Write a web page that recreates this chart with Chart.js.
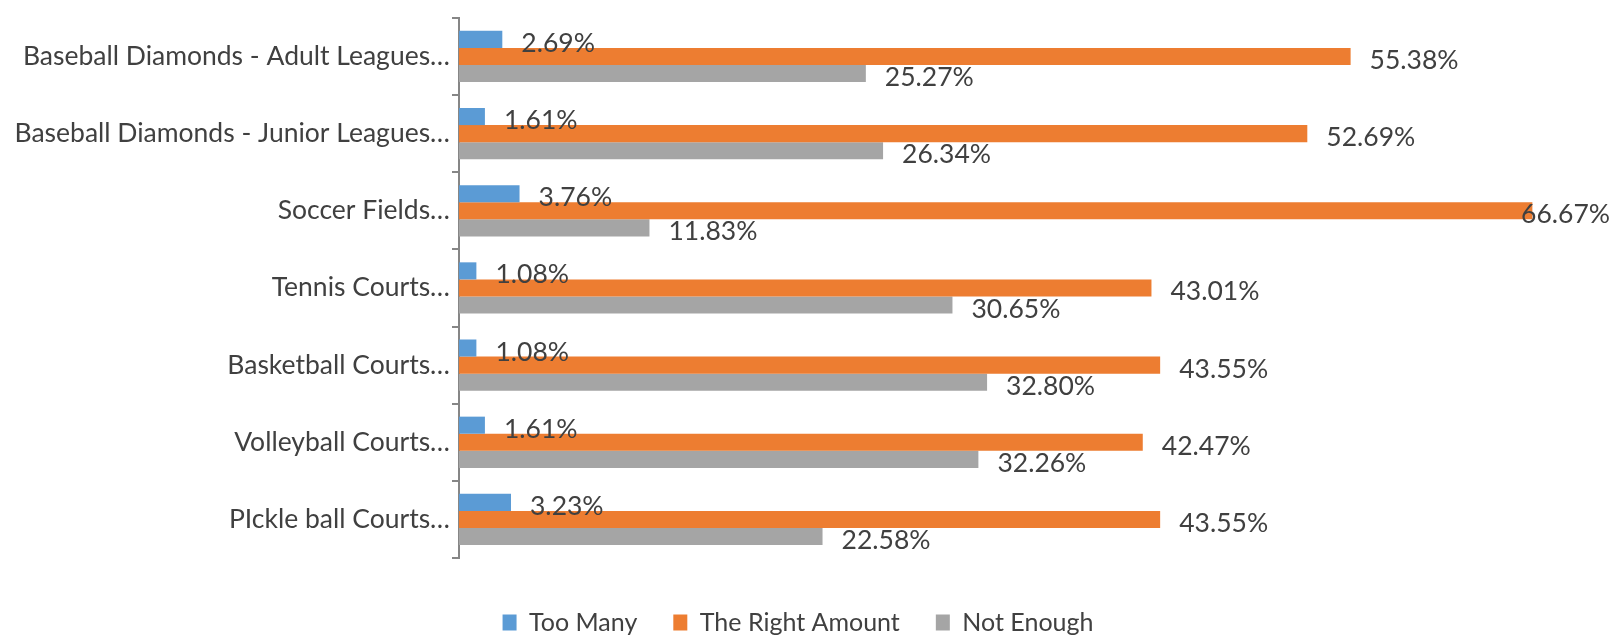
<!DOCTYPE html>
<html>
<head>
<meta charset="utf-8">
<script src="https://cdn.jsdelivr.net/npm/chart.js@4.4.1/dist/chart.umd.min.js"></script>
<style>
  html, body { margin: 0; padding: 0; background: #fff; }
  #wrap { width: 1619px; height: 637px; }
</style>
</head>
<body>
<div id="wrap"><canvas id="chart"></canvas></div>
<script>
// facilities survey: share of answers per facility type (percent)
const facilities = [
  'Baseball Diamonds - Adult Leagues…',
  'Baseball Diamonds - Junior Leagues…',
  'Soccer Fields…',
  'Tennis Courts…',
  'Basketball Courts…',
  'Volleyball Courts…',
  'PIckle ball Courts…'
];
const tooMany = [2.69, 1.61, 3.76, 1.08, 1.08, 1.61, 3.23];
const rightAmount = [55.38, 52.69, 66.67, 43.01, 43.55, 42.47, 43.55];
const notEnough = [25.27, 26.34, 11.83, 30.65, 32.80, 32.26, 22.58];

const TEXT = '#404040';
const AXIS = '#868686';
const FONT = 'Lato, "Noto Sans", sans-serif';

// percent labels just past the end of every bar
const valueLabels = {
  id: 'valueLabels',
  afterDatasetsDraw(chart) {
    const ctx = chart.ctx;
    ctx.save();
    ctx.font = '26.5px ' + FONT;
    ctx.fillStyle = TEXT;
    ctx.textAlign = 'left';
    ctx.textBaseline = 'middle';
    chart.data.datasets.forEach((ds, i) => {
      chart.getDatasetMeta(i).data.forEach((bar, j) => {
        const txt = ds.data[j].toFixed(2) + '%';
        const w = ctx.measureText(txt).width;
        let x = bar.x + 19;
        if (x + w > chart.width - 9) x = chart.width - 9 - w;
        ctx.fillText(txt, x, bar.y + 4);
      });
    });
    ctx.restore();
  }
};

// push the legend row down a little
const legendShift = {
  id: 'legendShift',
  afterLayout(chart) {
    const lg = chart.legend;
    lg.top += 8;
    lg.bottom += 8;
  }
};

new Chart(document.getElementById('chart'), {
  type: 'bar',
  data: {
    labels: facilities,
    datasets: [
      { label: 'Too Many', data: tooMany, backgroundColor: '#5B9BD5' },
      { label: 'The Right Amount', data: rightAmount, backgroundColor: '#ED7D31' },
      { label: 'Not Enough', data: notEnough, backgroundColor: '#A5A5A5' }
    ]
  },
  options: {
    indexAxis: 'y',
    responsive: true,
    maintainAspectRatio: false,
    animation: false,
    datasets: {
      bar: { categoryPercentage: 0.664, barPercentage: 1.0 }
    },
    layout: { padding: { top: 10, right: 33, left: 10, bottom: 0 } },
    scales: {
      x: {
        min: 0,
        max: 70,
        ticks: { display: false },
        grid: { display: false },
        border: { display: false },
        afterFit(s) { s.height = 8; }
      },
      y: {
        grid: {
          display: true,
          offset: true,
          drawOnChartArea: false,
          drawTicks: true,
          tickLength: 7,
          color: AXIS,
          lineWidth: 2
        },
        border: { display: true, color: AXIS, width: 2 },
        ticks: {
          color: TEXT,
          padding: 2,
          font: { family: FONT, size: 26.5 }
        },
        afterFit(s) { s.width = 449; }
      }
    },
    plugins: {
      legend: {
        position: 'bottom',
        labels: {
          boxWidth: 14,
          boxHeight: 16,
          padding: 36,
          color: TEXT,
          font: { family: FONT, size: 25, lineHeight: 1 }
        }
      },
      tooltip: { enabled: false }
    }
  },
  plugins: [valueLabels, legendShift]
});
</script>
</body>
</html>
